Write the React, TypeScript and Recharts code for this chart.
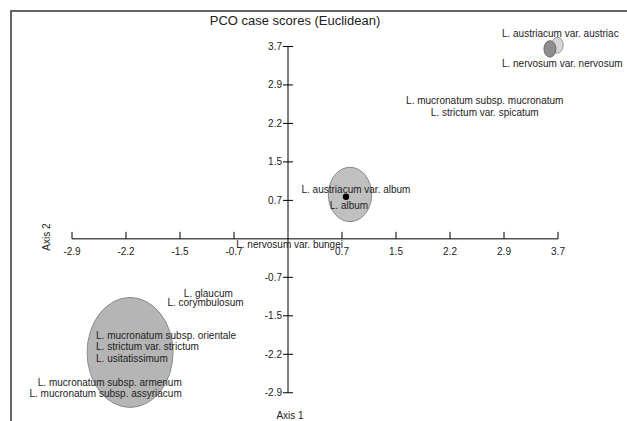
import { ScatterChart, Scatter, XAxis, YAxis, ReferenceLine, ReferenceArea } from "recharts";

// tick values on both axes and their printed labels
const axisTicks = [-2.92, -2.19, -1.46, -0.73, 0.73, 1.46, 2.19, 2.92, 3.65];
const axisTickLabels = ["-2.9", "-2.2", "-1.5", "-0.7", "0.7", "1.5", "2.2", "2.9", "3.7"];

// group ellipses: centre and spread on axis 1 / axis 2
const groupX = [-2.135, 0.838, 3.642, 3.541];
const groupY = [-2.155, 0.842, 3.673, 3.603];
const spreadX = [0.581, 0.293, 0.078, 0.081];
const spreadY = [1.043, 0.516, 0.152, 0.157];

// single case point
const caseX = [0.784];
const caseY = [0.8];

// case labels
const labelText = [
  "L. austriacum var. austriac",
  "L. nervosum var. nervosum",
  "L. mucronatum subsp. mucronatum",
  "L. strictum var. spicatum",
  "L. austriacum var. album",
  "L. album",
  "L. nervosum var. bungei",
  "L. glaucum",
  "L. corymbulosum",
  "L. mucronatum subsp. orientale",
  "L. strictum var. strictum",
  "L. usitatissimum",
  "L. mucronatum subsp. armenum",
  "L. mucronatum subsp. assyriacum",
];
const labelX = [2.892, 2.892, 2.66, 2.66, 0.919, 0.824, -0.7, -1.077, -1.115, -2.595, -2.595, -2.595, -1.436, -1.436];
const labelY = [3.9, 3.318, 2.616, 2.398, 0.928, 0.63, -0.1, -1.032, -1.203, -1.836, -2.051, -2.265, -2.728, -2.943];
const labelAnchor = ["start", "start", "middle", "middle", "middle", "middle", "start", "middle", "middle", "start", "start", "start", "end", "end"];

const FONT = '"Liberation Sans", Arial, sans-serif';
const ellipseFill = ["#b5b5b5", "#c0c0c0", "#d6d6d6", "#8e8e8e"];
const ellipseStroke = ["#8a8a8a", "#8a8a8a", "#9a9a9a", "#6e6e6e"];

const xTickData = axisTicks.map((t, i) => ({ x: t, y: 0, label: axisTickLabels[i] }));
const yTickData = axisTicks.map((t, i) => ({ x: 0, y: t, label: axisTickLabels[i] }));
const caseData = caseX.map((x, i) => ({ x, y: caseY[i] }));
const labelData = labelText.map((text, i) => ({ x: labelX[i], y: labelY[i], text, anchor: labelAnchor[i] }));

export default function App() {
  return (
    <div style={{ position: "absolute", left: 0, top: 0, width: 627, height: 421, background: "#fff", fontFamily: FONT }}>
      <ScatterChart width={627} height={421} margin={{ top: 8, right: 15, bottom: 9, left: 18 }} style={{ overflow: "visible" }}>
        <XAxis type="number" dataKey="x" domain={[-3.65, 4.38]} hide />
        <YAxis type="number" dataKey="y" domain={[-3.285, 4.38]} hide />
        {groupX.map((gx, i) => (
          <ReferenceArea
            key={i}
            x1={gx - spreadX[i]}
            x2={gx + spreadX[i]}
            y1={groupY[i] - spreadY[i]}
            y2={groupY[i] + spreadY[i]}
            ifOverflow="visible"
            shape={(p: any) => (
              <ellipse
                cx={p.x + p.width / 2}
                cy={p.y + p.height / 2}
                rx={Math.abs(p.width) / 2}
                ry={Math.abs(p.height) / 2}
                fill={ellipseFill[i]}
                stroke={ellipseStroke[i]}
                strokeWidth={1}
              />
            )}
          />
        ))}
        <ReferenceLine segment={[{ x: axisTicks[0], y: 0 }, { x: axisTicks[axisTicks.length - 1], y: 0 }]} stroke="#000" strokeWidth={1} ifOverflow="visible" />
        <ReferenceLine segment={[{ x: 0, y: axisTicks[0] }, { x: 0, y: axisTicks[axisTicks.length - 1] }]} stroke="#000" strokeWidth={1} ifOverflow="visible" />
        <Scatter
          data={xTickData}
          isAnimationActive={false}
          shape={(p: any) => (
            <g>
              <line x1={p.cx} y1={p.cy - 7} x2={p.cx} y2={p.cy} stroke="#000" strokeWidth={1} />
              <text x={p.cx} y={p.cy + 13} dy="0.35em" textAnchor="middle" fontSize={10} fontFamily={FONT} fill="#222">
                {p.payload.label}
              </text>
            </g>
          )}
        />
        <Scatter
          data={yTickData}
          isAnimationActive={false}
          shape={(p: any) => (
            <g>
              <line x1={p.cx - 5} y1={p.cy} x2={p.cx + 5} y2={p.cy} stroke="#000" strokeWidth={1} />
              <text x={p.cx - 6} y={p.cy} dy="0.35em" textAnchor="end" fontSize={10} fontFamily={FONT} fill="#222">
                {p.payload.label}
              </text>
            </g>
          )}
        />
        <Scatter
          data={caseData}
          isAnimationActive={false}
          shape={(p: any) => <circle cx={p.cx} cy={p.cy} r={3.2} fill="#000" />}
        />
        <Scatter
          data={labelData}
          isAnimationActive={false}
          shape={(p: any) => (
            <text x={p.cx} y={p.cy} dy="0.35em" textAnchor={p.payload.anchor} fontSize={10} fontFamily={FONT} fill="#222">
              {p.payload.text}
            </text>
          )}
        />
      </ScatterChart>
      <svg width={627} height={421} style={{ position: "absolute", left: 0, top: 0, pointerEvents: "none" }}>
        <rect x={11} y={11} width={700} height={500} fill="none" stroke="#666" strokeWidth={2} />
        <text x={295} y={20} dy="0.35em" textAnchor="middle" fontSize={13} fontFamily={FONT} fill="#222">
          PCO case scores (Euclidean)
        </text>
        <text x={290} y={415} dy="0.35em" textAnchor="middle" fontSize={10} fontFamily={FONT} fill="#222">
          Axis 1
        </text>
        <text x={46} y={237} dy="0.35em" textAnchor="middle" fontSize={10} fontFamily={FONT} fill="#222" transform="rotate(-90 46 237)">
          Axis 2
        </text>
      </svg>
    </div>
  );
}
